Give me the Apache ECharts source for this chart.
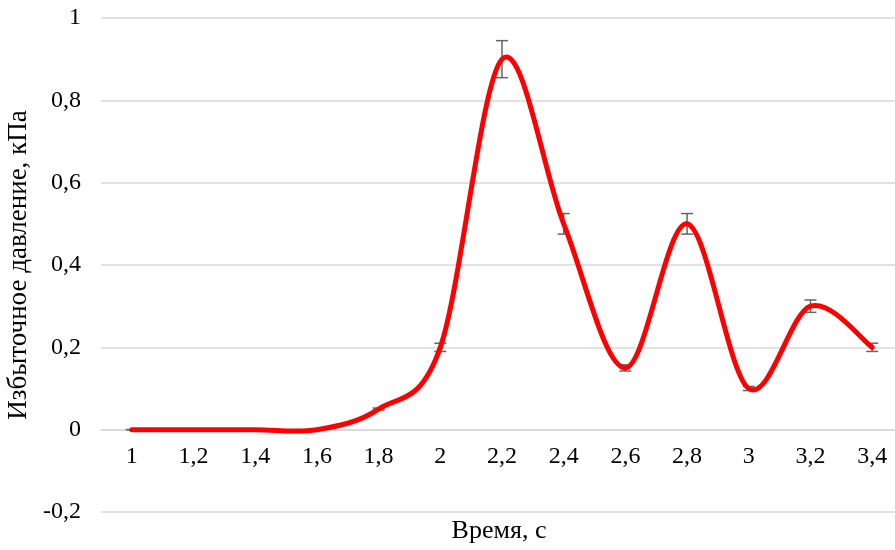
<!DOCTYPE html>
<html>
<head>
<meta charset="utf-8">
<script src="https://cdn.jsdelivr.net/npm/echarts@6/dist/echarts.min.js"></script>
<style>html,body{margin:0;padding:0;background:#fff}#c{width:895px;height:550px}</style>
</head>
<body>
<div id="c"></div>
<script>
const categories = ['1', '1,2', '1,4', '1,6', '1,8', '2', '2,2', '2,4', '2,6', '2,8', '3', '3,2', '3,4'];
const pressure = [0, 0, 0, 0, 0.05, 0.2, 0.9, 0.5, 0.15, 0.5, 0.1, 0.3, 0.2];
const errorPlus = [0, 0, 0, 0, 0.0025, 0.01, 0.045, 0.025, 0.0075, 0.025, 0.005, 0.015, 0.01];
const yTicks = { min: -0.2, max: 1, interval: 0.2 };

const font = '"Liberation Serif", "Times New Roman", serif';
const errData = pressure.map((v, i) => [i, v - errorPlus[i], v + errorPlus[i]]);
const gridH = 494;

const chart = echarts.init(document.getElementById('c'));
chart.setOption({
  animation: false,
  grid: { left: 101, top: 18, width: 802, height: gridH, containLabel: false, outerBoundsMode: 'none' },
  xAxis: {
    type: 'category',
    data: categories,
    boundaryGap: true,
    position: 'bottom',
    offset: -gridH / 6,
    name: 'Время, с',
    nameLocation: 'middle',
    nameGap: 89,
    nameTextStyle: { fontFamily: font, fontSize: 26, color: '#000', padding: [0, 6, 0, 0] },
    axisLine: { show: true, onZero: false, lineStyle: { color: '#d9d9d9', width: 1.5 } },
    axisTick: { show: false },
    axisLabel: { fontFamily: font, fontSize: 24, color: '#000', margin: 15 },
    splitLine: { show: false }
  },
  yAxis: {
    type: 'value',
    min: yTicks.min,
    max: yTicks.max,
    interval: yTicks.interval,
    name: 'Избыточное давление, кПа',
    nameLocation: 'middle',
    nameGap: 65,
    nameRotate: 90,
    nameTextStyle: { fontFamily: font, fontSize: 27, color: '#000' },
    axisLine: { show: false },
    axisTick: { show: false },
    axisLabel: {
      fontFamily: font, fontSize: 24, color: '#000', margin: 20,
      formatter: v => String(Math.round(v * 10) / 10).replace('.', ',')
    },
    splitLine: { lineStyle: { color: '#d9d9d9', width: 1.5 } }
  },
  series: [
    {
      type: 'custom',
      z: 1,
      data: errData,
      renderItem: (params, api) => {
        const x = api.value(0);
        const lo = api.coord([x, api.value(1)]);
        const hi = api.coord([x, api.value(2)]);
        const hw = 6;
        const style = { stroke: '#666666', lineWidth: 1.5 };
        return {
          type: 'group',
          children: [
            { type: 'line', shape: { x1: lo[0], y1: lo[1], x2: hi[0], y2: hi[1] }, style },
            { type: 'line', shape: { x1: lo[0] - hw, y1: lo[1], x2: lo[0] + hw, y2: lo[1] }, style },
            { type: 'line', shape: { x1: hi[0] - hw, y1: hi[1], x2: hi[0] + hw, y2: hi[1] }, style }
          ]
        };
      }
    },
    {
      // smoothed line (Catmull-Rom style, like spreadsheet smoothing) through the data points
      type: 'custom',
      z: 3,
      data: [[0]],
      renderItem: (params, api) => {
        const pts = pressure.map((v, i) => api.coord([i, v]));
        const n = pts.length;
        let d = 'M' + pts[0][0] + ' ' + pts[0][1];
        for (let i = 0; i < n - 1; i++) {
          const p0 = pts[Math.max(i - 1, 0)];
          const p1 = pts[i];
          const p2 = pts[i + 1];
          const p3 = pts[Math.min(i + 2, n - 1)];
          const c1 = [p1[0] + (p2[0] - p0[0]) / 6, p1[1] + (p2[1] - p0[1]) / 6];
          const c2 = [p2[0] - (p3[0] - p1[0]) / 6, p2[1] - (p3[1] - p1[1]) / 6];
          d += ' C' + c1[0] + ' ' + c1[1] + ' ' + c2[0] + ' ' + c2[1] + ' ' + p2[0] + ' ' + p2[1];
        }
        return {
          type: 'path',
          shape: { pathData: d },
          style: { fill: 'none', stroke: '#ff0000', lineWidth: 5, lineCap: 'round', lineJoin: 'round' }
        };
      }
    }
  ]
});
</script>
</body>
</html>
